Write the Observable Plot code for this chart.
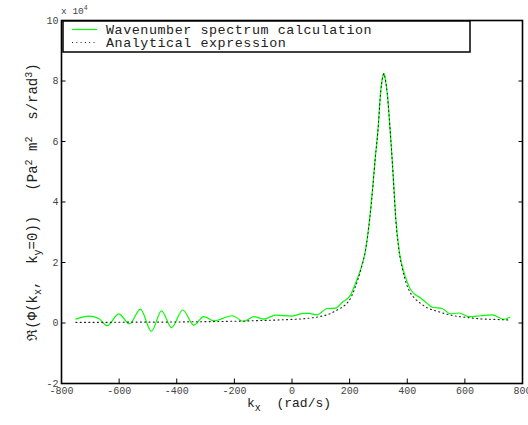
<!DOCTYPE html>
<html><head><meta charset="utf-8">
<script src="https://cdn.jsdelivr.net/npm/d3@7"></script>
<script src="https://cdn.jsdelivr.net/npm/@observablehq/plot@0.6"></script>
<style>body{margin:0;background:#fff}#chart{width:528px;height:425px}</style>
</head><body><div id="chart"></div>
<script>
// tick values (units of 10^4 on y)
const xTicks = [-800, -600, -400, -200, 0, 200, 400, 600, 800];
const yTicks = [-2, 0, 2, 4, 6, 8, 10];
const seriesNames = ["Wavenumber spectrum calculation", "Analytical expression"];

// Wavenumber spectrum calculation (green)
const waveKx = [-750, -705, -671, -642, -601, -564, -526, -488, -453, -418, -379, -341, -306, -271, -208, -167, -133, -98, -57, 0, 41, 58, 87, 122, 151, 174, 203, 220, 240, 255, 270, 281, 288, 299, 307, 314, 319, 324, 331, 340, 348, 353, 360, 372, 385, 398, 412, 425, 446, 470, 487, 521, 550, 579, 614, 655, 695, 735, 756];
const waveVal = [0.13, 0.23, 0.15, -0.09, 0.30, -0.03, 0.46, -0.28, 0.40, -0.15, 0.43, -0.07, 0.21, 0.07, 0.24, 0.05, 0.21, 0.13, 0.26, 0.23, 0.32, 0.32, 0.27, 0.48, 0.49, 0.68, 0.92, 1.3, 1.83, 2.4, 3.5, 4.59, 5.36, 6.46, 7.56, 8.1, 8.25, 8.05, 7.56, 6.46, 5.36, 4.59, 3.49, 2.39, 1.8, 1.4, 1.1, 0.96, 0.83, 0.64, 0.52, 0.48, 0.30, 0.33, 0.21, 0.24, 0.27, 0.12, 0.19];

// Analytical expression (dotted)
const anaKx = [-750, -650, -550, -450, -350, -250, -150, -50, 0, 50, 100, 130, 160, 185, 205, 220, 240, 255, 270, 281, 288, 299, 307, 314, 319, 324, 331, 340, 348, 353, 360, 372, 384, 397, 412, 425, 446, 470, 500, 550, 600, 650, 700, 755];
const anaVal = [0.02, 0.02, 0.03, 0.03, 0.04, 0.05, 0.07, 0.10, 0.12, 0.15, 0.22, 0.30, 0.45, 0.60, 0.85, 1.2, 1.8, 2.4, 3.45, 4.55, 5.35, 6.45, 7.55, 8.1, 8.24, 8.05, 7.55, 6.45, 5.35, 4.55, 3.45, 2.35, 1.75, 1.3, 0.98, 0.82, 0.65, 0.50, 0.40, 0.26, 0.19, 0.14, 0.12, 0.10];

const wave = waveKx.map((k, i) => ({k, v: waveVal[i]}));
const ana = anaKx.map((k, i) => ({k, v: anaVal[i]}));

const mono = "'Liberation Mono', 'Courier New', monospace";
const GREEN = "#00ff00";
const DOT = "1,3.3";

const svgEl = Plot.plot({
  width: 528, height: 425,
  marginLeft: 61, marginRight: 6, marginTop: 20, marginBottom: 42,
  style: {fontFamily: mono, fontSize: "10px", color: "black", background: "white", overflow: "hidden"},
  x: {domain: [-800, 800], ticks: xTicks, label: null},
  y: {domain: [-2, 10], ticks: yTicks, label: null},
  marks: [
    Plot.line(wave, {x: "k", y: "v", stroke: GREEN, strokeWidth: 1.2, curve: "monotone-x"}),
    Plot.line(ana, {x: "k", y: "v", stroke: "#222", strokeWidth: 1.1, strokeDasharray: DOT, curve: "monotone-x"}),
    Plot.axisX(xTicks, {anchor: "bottom", tickSize: -4.5, tickPadding: 8, label: null, fill: "#444", tickFormat: d => String(d)}),
    Plot.axisX(xTicks, {anchor: "top", tickSize: -4.5, label: null, fill: "none"}),
    Plot.axisY(yTicks, {anchor: "left", tickSize: -4.5, tickPadding: 7.5, label: null, fill: "#444", tickFormat: d => String(d)}),
    Plot.axisY(yTicks, {anchor: "right", tickSize: -4.5, label: null, fill: "none"}),
    Plot.frame({stroke: "black", strokeWidth: 1.6})
  ]
});
document.getElementById("chart").appendChild(svgEl);

const svg = d3.select(svgEl);

// multiplier
const mult = svg.append("text").attr("x", 61).attr("y", 14).attr("text-anchor", "start")
  .attr("font-family", mono).attr("font-size", 9.5).attr("fill", "#444");
mult.append("tspan").text("x 10");
mult.append("tspan").attr("dy", -4.5).attr("font-size", 6.5).text("4");

// x label
const xl = svg.append("text").attr("x", 247).attr("y", 407).attr("text-anchor", "start")
  .attr("font-family", mono).attr("font-size", 13).attr("fill", "#222");
xl.append("tspan").text("k");
xl.append("tspan").attr("dy", 4).attr("font-size", 10).text("x");
xl.append("tspan").attr("dy", -4).text("\u00a0\u00a0(rad/s)");

// y label
const yl = svg.append("text")
  .attr("transform", "translate(37,202) rotate(-90)")
  .attr("text-anchor", "middle")
  .attr("font-family", mono).attr("font-size", 14).attr("fill", "#222");
const parts = [
  ["\u211C(\u03A6(k", 0], ["x", 1], [", \u00a0k", 0], ["y", 1], ["=0))\u00a0\u00a0\u00a0(Pa", 0], ["2", 2], ["\u00a0m", 0], ["2", 2], ["\u00a0\u00a0s/rad", 0], ["3", 2], [")", 0]
];
let state = 0;
for (const [t, s] of parts) {
  const sp = yl.append("tspan").text(t);
  const off = s === 1 ? 4 : s === 2 ? -5 : 0;
  const prev = state === 1 ? 4 : state === 2 ? -5 : 0;
  const dy = off - prev;
  if (dy) sp.attr("dy", dy);
  if (s) sp.attr("font-size", 10);
  state = s;
}

// legend
const lg = svg.append("g");
lg.append("rect").attr("x", 63).attr("y", 21).attr("width", 407).attr("height", 31)
  .attr("fill", "white").attr("stroke", "black").attr("stroke-width", 1.5);
const rows = [{name: seriesNames[0], stroke: GREEN, dash: null, w: 1.2},
              {name: seriesNames[1], stroke: "#222", dash: DOT, w: 1.1}];
rows.forEach((r, i) => {
  const y = 29.5 + i * 13;
  const ln = lg.append("line").attr("x1", 72).attr("x2", 97).attr("y1", y).attr("y2", y)
    .attr("stroke", r.stroke).attr("stroke-width", r.w);
  if (r.dash) ln.attr("stroke-dasharray", r.dash);
  lg.append("text").attr("x", 106).attr("y", y + 4.5).attr("text-anchor", "start")
    .attr("font-family", mono).attr("font-size", 13.4).attr("letter-spacing", 0.55)
    .attr("fill", "#222").text(r.name);
});
</script>
</body></html>
